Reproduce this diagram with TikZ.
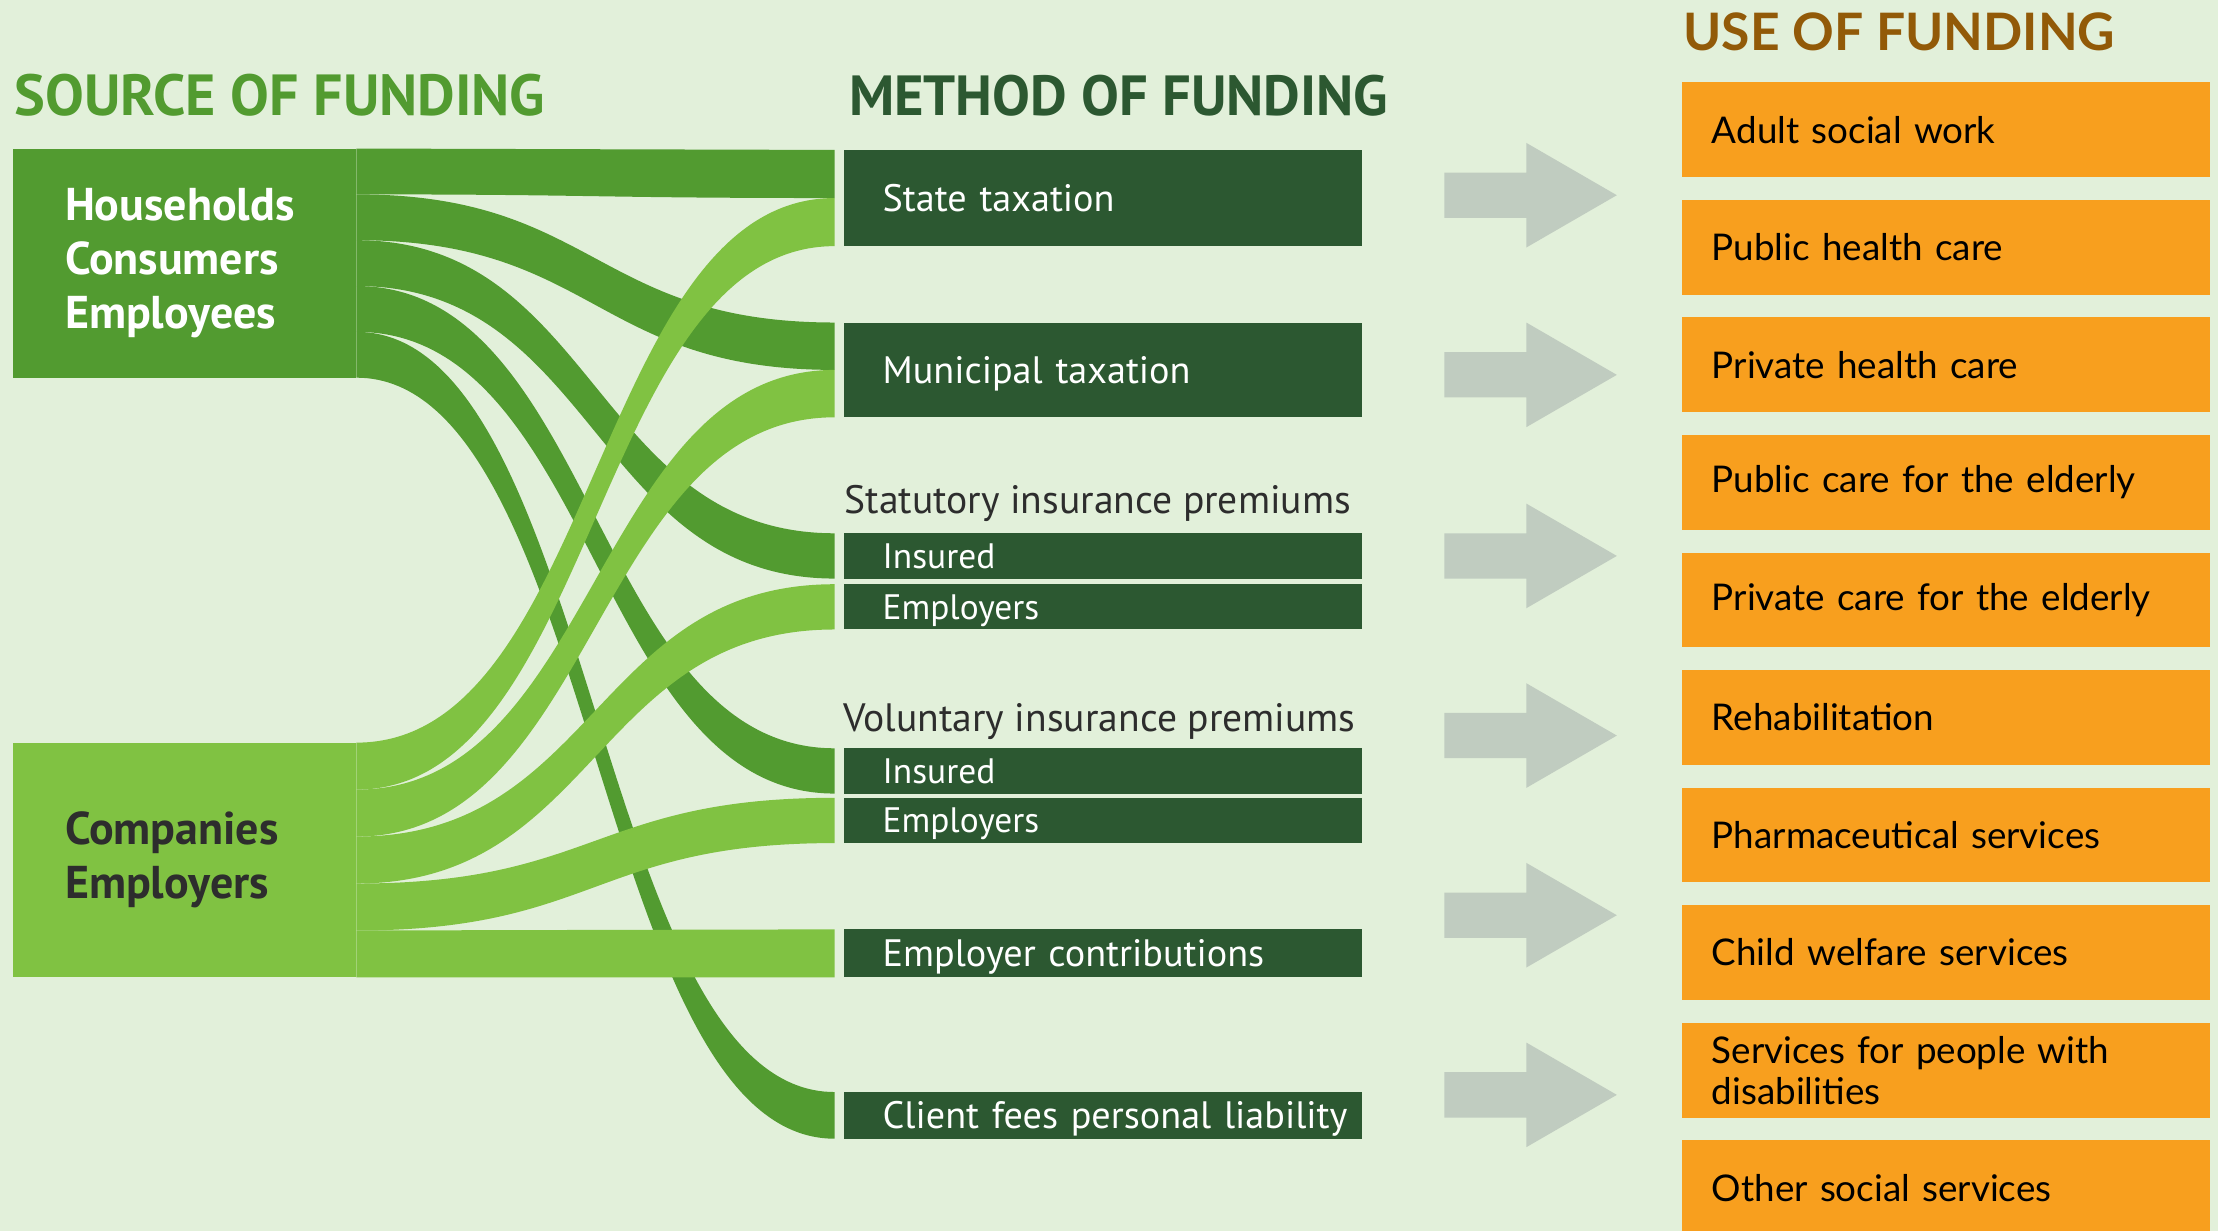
\documentclass[tikz,border=0pt]{standalone}
\usepackage{fontspec}
\setmainfont{PT Sans}
\newfontfamily\latofont{Lato}
\usetikzlibrary{positioning,calc}
\definecolor{bgcol}{RGB}{226,240,218}
\definecolor{hhgreen}{RGB}{82,155,48}
\definecolor{cogreen}{RGB}{128,194,66}
\definecolor{methgreen}{RGB}{44,88,49}
\definecolor{useorange}{RGB}{248,159,30}
\definecolor{usebrown}{RGB}{146,90,8}
\definecolor{arrowgray}{RGB}{192,204,192}
\definecolor{textgray}{RGB}{45,45,45}
\tikzset{
    headline/.style = {anchor=base west, inner sep=0pt,
        font=\fontsize{40.5}{42}\selectfont\bfseries},
    source/.style = {rectangle, minimum width=243pt, inner xsep=37pt,
        text width=169pt, align=left, outer sep=0pt,
        font=\fontsize{32.5}{38.5}\selectfont\bfseries},
    method/.style = {fill=methgreen, text=white, minimum width=366pt,
        inner xsep=27pt, inner ysep=0pt, text width=312pt, align=left,
        text height=19pt, text depth=0pt, outer sep=0pt,
        font=\fontsize{27}{30}\selectfont},
    sub/.style = {method, minimum height=32pt, text height=17.5pt,
        font=\fontsize{25}{28}\selectfont},
    premium/.style = {anchor=west, inner sep=0pt, text=textgray,
        font=\fontsize{28}{30}\selectfont},
    usebox/.style = {fill=useorange, anchor=north west, minimum width=373pt,
        minimum height=67pt, inner xsep=21pt, inner ysep=0pt, text width=331pt,
        align=left, font=\latofont\fontsize{26}{29}\selectfont}
}
% ribbon: colour, source, from, to, target, from, to
\newcommand{\flow}[7]{%
    \fill[#1] ($(#2.north east)!#3!(#2.south east)$)
        .. controls +(169,0) and +(-169,0) .. ($(#5.north west)!#6!(#5.south west)+(-7,0)$)
        -- ($(#5.north west)!#7!(#5.south west)+(-7,0)$)
        .. controls +(-169,0) and +(169,0) .. ($(#2.north east)!#4!(#2.south east)$) -- cycle;}
\begin{document}
\begin{tikzpicture}[x=1pt, y=-1pt]
    \useasboundingbox (0,0) rectangle (1568,870);
    \fill[bgcol] (0,0) rectangle (1568,870);
    % column titles
    \node[headline, text=hhgreen, font=\fontsize{41}{42}\selectfont\bfseries] (srct) at (10,82) {SOURCE OF FUNDING};
    \node[headline, text=methgreen, font=\fontsize{40}{42}\selectfont\bfseries] (metht) at (600,82) {METHOD OF FUNDING};
    \node[headline, text=usebrown, font=\latofont\fontsize{36.5}{40}\selectfont\bfseries] (uset) at (1190,36) {USE OF FUNDING};
    % sources
    \node[source, fill=hhgreen, text=white, minimum height=162pt, anchor=north west] (hh) at (9,105) {Households\\Consumers\\Employees};
    \node[source, fill=cogreen, text=textgray, minimum height=166pt, below=258pt of hh] (co) {Companies\\Employers};
    % methods
    \node[method, minimum height=68pt, anchor=north west] (st) at (597,106) {State taxation};
    \node[method, minimum height=67pt, below=54pt of st] (mu) {Municipal taxation};
    \node[sub, below=82pt of mu] (si) {Insured};
    \node[sub, below=4pt of si] (se) {Employers};
    \node[sub, below=84pt of se] (vi) {Insured};
    \node[sub, below=3pt of vi] (ve) {Employers};
    \node[method, minimum height=34pt, below=61pt of ve] (ec) {Employer contributions};
    \node[method, minimum height=33pt, below=81pt of ec] (cf) {\makebox[\linewidth][l]{Client fees personal liability}};
    \node[premium] (sp) at (597,356) {Statutory insurance premiums};
    \node[premium] (vp) at (596,510) {Voluntary insurance premiums};
    % households first, companies on top
    \flow{hhgreen}{hh}{0}{0.2}{st}{0}{0.5}
    \flow{hhgreen}{hh}{0.2}{0.4}{mu}{0}{0.5}
    \flow{hhgreen}{hh}{0.4}{0.6}{si}{0}{1}
    \flow{hhgreen}{hh}{0.6}{0.8}{vi}{0}{1}
    \flow{hhgreen}{hh}{0.8}{1}{cf}{0}{1}
    \flow{cogreen}{co}{0}{0.2}{st}{0.5}{1}
    \flow{cogreen}{co}{0.2}{0.4}{mu}{0.5}{1}
    \flow{cogreen}{co}{0.4}{0.6}{se}{0}{1}
    \flow{cogreen}{co}{0.6}{0.8}{ve}{0}{1}
    \flow{cogreen}{co}{0.8}{1}{ec}{0}{1}
    % arrows
    \foreach \y in {138,265,393,520,647,774}
        \fill[arrowgray] (1021,{\y-16}) -- (1079,{\y-16}) -- (1079,{\y-37}) -- (1143,\y)
            -- (1079,{\y+37}) -- (1079,{\y+16}) -- (1021,{\y+16}) -- cycle;
    % uses
    \foreach \txt [count=\i from 0] in {Adult social work, Public health care,
        Private health care, Public care for the elderly, Private care for the elderly,
        Rehabilitation, Pharmaceutical services, Child welfare services,
        {Services for people with\\disabilities}, Other social services}
        \node[usebox] (u\i) at (1189,{58+83.1*\i}) {\txt};
\end{tikzpicture}
\end{document}
